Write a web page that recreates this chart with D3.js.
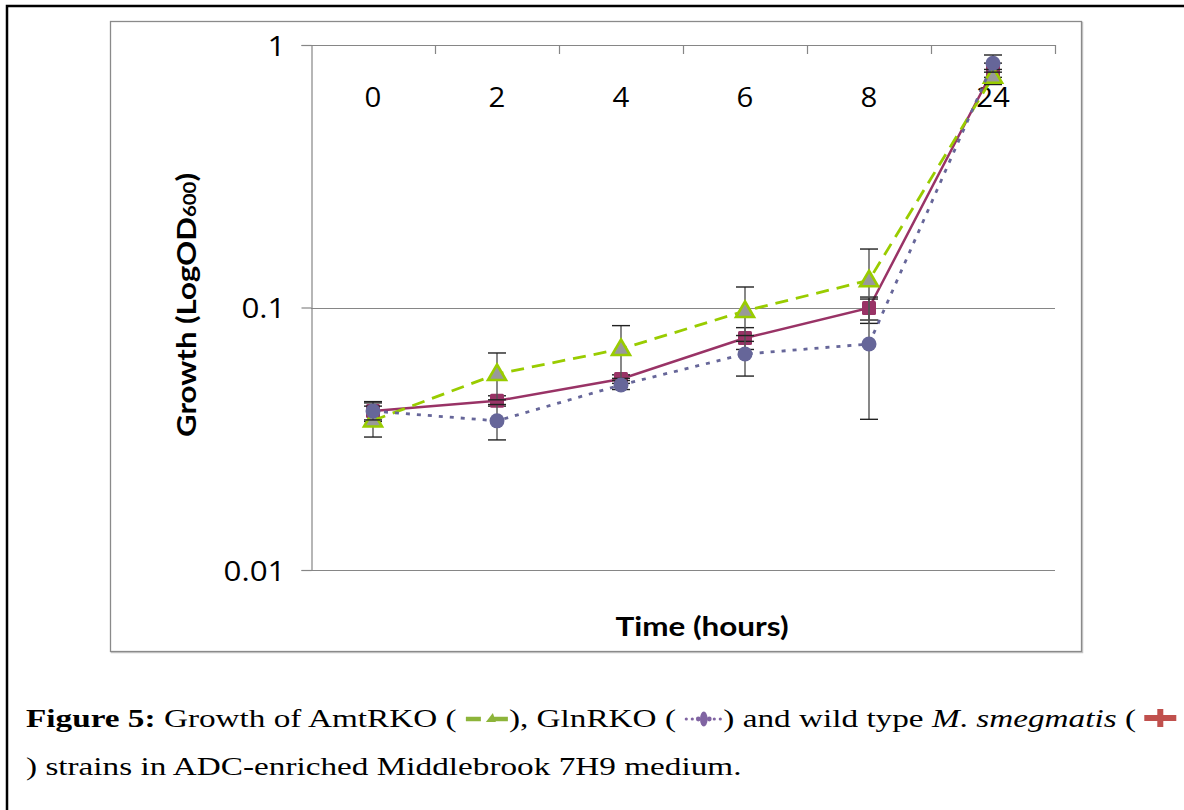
<!DOCTYPE html>
<html>
<head>
<meta charset="utf-8">
<script src="https://cdn.jsdelivr.net/npm/d3@7"></script>
<style>
  html, body { margin: 0; padding: 0; background: #fff; }
  svg { display: block; }
</style>
</head>
<body>
<svg id="chart" width="1184" height="810"></svg>
<script>
// ---- data ----
const categories = ["0", "2", "4", "6", "8", "24"];
const yTickValues = [1, 0.1, 0.01];
const yTickLabels = ["1", "0.1", "0.01"];

const wildType    = [0.0403, 0.0441, 0.0534, 0.0765, 0.0996, 0.803];
const wildTypeErr = [0.0035, 0.0020, 0.0020, 0.0073, 0.0100, 0.050];
const amtRKO      = [0.0371, 0.0558, 0.0695, 0.0970, 0.1270, 0.757];
const amtRKOErr   = [0.0050, 0.0113, 0.0158, 0.0227, 0.0400, 0.050];
const glnRKO      = [0.0403, 0.0370, 0.0507, 0.0665, 0.0726, 0.852];
const glnRKOErr   = [0.0030, 0.0057, 0.0020, 0.0117, 0.0351, 0.064];

const seriesNames = ["wild type", "AmtRKO", "GlnRKO"];

// ---- drawing ----
const svg = d3.select("#chart");
const plot = { left: 311, right: 1055, top: 45, bottom: 570 };
const axisGray = "#868686";

// outer frame (only top/left visible in picture)
svg.append("rect").attr("x", 7).attr("y", 6).attr("width", 1250).attr("height", 900)
  .attr("fill", "none").attr("stroke", "#000").attr("stroke-width", 2.5);

// chart box
svg.append("rect").attr("x", 111.5).attr("y", 22.5).attr("width", 971).attr("height", 630)
  .attr("fill", "none").attr("stroke", "#c8c8c8").attr("stroke-width", 1.5);
svg.append("rect").attr("x", 110.5).attr("y", 21.5).attr("width", 971).attr("height", 630)
  .attr("fill", "#fff").attr("stroke", "#8a8a8a").attr("stroke-width", 1.3);

const x = d3.scaleBand().domain(categories).range([plot.left, plot.right]).paddingInner(0).paddingOuter(0);
const xc = c => x(c) + x.bandwidth() / 2;
const y = d3.scaleLog().domain([0.01, 1]).range([plot.bottom, plot.top]);

// gridlines
svg.append("g").selectAll("line").data(yTickValues.slice(1)).join("line")
  .attr("x1", plot.left).attr("x2", plot.right)
  .attr("y1", d => Math.round(y(d)) + 0.5).attr("y2", d => Math.round(y(d)) + 0.5)
  .attr("stroke", axisGray).attr("stroke-width", 1.2);

// y axis
const yAxis = d3.axisLeft(y).tickValues(yTickValues)
  .tickFormat((d, i) => yTickLabels[i]).tickSize(10).tickPadding(16);
const gy = svg.append("g").attr("transform", `translate(${plot.left + 0.5},0)`).call(yAxis);
gy.select(".domain").attr("stroke", axisGray).attr("stroke-width", 1.2);
gy.selectAll(".tick line").attr("stroke", axisGray).attr("stroke-width", 1.2);
gy.selectAll(".tick text").attr("font-family", "'Open Sans', sans-serif")
  .attr("font-size", 28).attr("fill", "#000").attr("dy", "0.36em")
  .attr("x", 0).attr("transform", "translate(-26,0) scale(1.12,1)");

// x axis line at top (value 1) with category boundary ticks going down
svg.append("line").attr("x1", plot.left).attr("x2", plot.right)
  .attr("y1", y(1) + 0.5).attr("y2", y(1) + 0.5)
  .attr("stroke", axisGray).attr("stroke-width", 1.2);
svg.append("g").selectAll("line").data(categories).join("line")
  .attr("x1", d => x(d) + x.bandwidth() + 0.5).attr("x2", d => x(d) + x.bandwidth() + 0.5)
  .attr("y1", y(1)).attr("y2", y(1) + 9)
  .attr("stroke", axisGray).attr("stroke-width", 1.2);

// category labels (below top axis line)
const xAxis = d3.axisBottom(x).tickSize(0).tickPadding(0);
const gx = svg.append("g").attr("transform", `translate(0,${y(1)})`).call(xAxis);
gx.select(".domain").remove();
gx.selectAll(".tick text").attr("font-family", "'Open Sans', sans-serif")
  .attr("font-size", 28).attr("fill", "#000").attr("y", 0).attr("dy", 0)
  .attr("transform", "translate(0,62) scale(1.05,1)");

// axis titles
svg.append("text").attr("transform", "translate(702,636) scale(1.21,1)").attr("text-anchor", "middle")
  .attr("font-family", "Lato, sans-serif").attr("font-weight", "bold").attr("font-size", 26)
  .text("Time (hours)");
const yt = svg.append("text").attr("transform", "translate(196,305) rotate(-90) scale(1.2,1)")
  .attr("text-anchor", "middle").attr("font-family", "Lato, sans-serif")
  .attr("font-weight", "bold").attr("font-size", 26);
yt.append("tspan").text("Growth (LogOD");
yt.append("tspan").attr("font-size", 17).text("600");
yt.append("tspan").text(")");

// series
const series = [
  { name: seriesNames[0], vals: wildType, err: wildTypeErr, color: "#993366", dash: null, marker: "square" },
  { name: seriesNames[1], vals: amtRKO, err: amtRKOErr, color: "#99cc00", dash: "13,8", marker: "triangle" },
  { name: seriesNames[2], vals: glnRKO, err: glnRKOErr, color: "#666699", dash: "4,7", marker: "circle" }
];

const line = d3.line().x(d => xc(d.c)).y(d => y(d.v));

series.forEach(s => {
  const pts = categories.map((c, i) => ({ c, v: s.vals[i], e: s.err[i] }));
  const g = svg.append("g");
  g.append("path").datum(pts).attr("d", line).attr("fill", "none")
    .attr("stroke", s.color).attr("stroke-width", s.marker === "square" ? 2.5 : 2.8)
    .attr("stroke-dasharray", s.dash);
  // error bars
  const eb = g.append("g").selectAll("g").data(pts).join("g");
  eb.append("line").attr("x1", d => xc(d.c)).attr("x2", d => xc(d.c))
    .attr("y1", d => y(d.v + d.e)).attr("y2", d => y(d.v - d.e))
    .attr("stroke", "#555").attr("stroke-width", 1.4);
  eb.append("line").attr("x1", d => xc(d.c) - 9).attr("x2", d => xc(d.c) + 9)
    .attr("y1", d => y(d.v + d.e)).attr("y2", d => y(d.v + d.e))
    .attr("stroke", "#222").attr("stroke-width", 1.4);
  eb.append("line").attr("x1", d => xc(d.c) - 9).attr("x2", d => xc(d.c) + 9)
    .attr("y1", d => y(d.v - d.e)).attr("y2", d => y(d.v - d.e))
    .attr("stroke", "#222").attr("stroke-width", 1.4);
  // markers
  const m = g.append("g").selectAll("g").data(pts).join("g")
    .attr("transform", d => `translate(${xc(d.c)},${y(d.v)})`);
  if (s.marker === "square") {
    m.append("rect").attr("x", -7).attr("y", -7).attr("width", 14).attr("height", 14)
      .attr("rx", 1.5).attr("fill", s.color);
  } else if (s.marker === "triangle") {
    m.append("path").attr("d", "M0,-9.5 L9,6 L-9,6 Z")
      .attr("fill", "#999999").attr("stroke", s.color).attr("stroke-width", 2.6)
      .attr("stroke-linejoin", "miter");
  } else {
    m.append("circle").attr("r", 7.5).attr("fill", s.color);
  }
});

// ---- caption ----
const capFont = "'Liberation Serif', 'Times New Roman', serif";
const capScale = 1.33;
function placeText(parent, xPos, yPos, str, opts) {
  const t = parent.append("text").attr("x", 0).attr("y", 0)
    .attr("transform", `translate(${xPos},${yPos}) scale(${capScale},1)`)
    .attr("font-family", capFont).attr("font-size", 25).attr("fill", "#000")
    .attr("font-weight", opts && opts.bold ? "bold" : "normal")
    .attr("font-style", opts && opts.italic ? "italic" : "normal")
    .attr("xml:space", "preserve").style("white-space", "pre")
    .text(str);
  return xPos + capScale * t.node().getComputedTextLength();
}
const cap = svg.append("g");
const b1 = 727, b2 = 775;
let cx = 26;
cx = placeText(cap, cx, b1, "Figure 5:", { bold: true });
cx = placeText(cap, cx, b1, " Growth of AmtRKO ( ");
// green legend icon: dash, triangle, dash
{
  const gi = cap.append("g").attr("transform", `translate(${cx},${b1 - 8})`);
  gi.append("line").attr("x1", 1).attr("x2", 16).attr("y1", 0).attr("y2", 0)
    .attr("stroke", "#8db43a").attr("stroke-width", 4.5);
  gi.append("path").attr("d", "M21,3 L28,-6 L31,3 Z").attr("fill", "#8db43a");
  gi.append("line").attr("x1", 29).attr("x2", 43).attr("y1", 0).attr("y2", 0)
    .attr("stroke", "#8db43a").attr("stroke-width", 4.5);
  cx += 44;
}
cx = placeText(cap, cx, b1, "), GlnRKO ( ");
{
  const pi = cap.append("g").attr("transform", `translate(${cx},${b1 - 8})`);
  [2, 8, 30, 36].forEach(d => pi.append("circle").attr("cx", d).attr("cy", 0).attr("r", 1.6).attr("fill", "#8064a2"));
  [14, 25].forEach(d => pi.append("circle").attr("cx", d).attr("cy", 0).attr("r", 2.4).attr("fill", "#8064a2"));
  pi.append("ellipse").attr("cx", 19.5).attr("cy", 0).attr("rx", 3.8).attr("ry", 7.5).attr("fill", "#8064a2");
  cx += 39;
}
cx = placeText(cap, cx, b1, ") and wild type ");
cx = placeText(cap, cx, b1, "M", { italic: true });
cx = placeText(cap, cx, b1, ". ");
cx = placeText(cap, cx, b1, "smegmatis", { italic: true });
cx = placeText(cap, cx, b1, " ( ");
{
  const ri = cap.append("g").attr("transform", `translate(${cx},${b1 - 9})`);
  ri.append("rect").attr("x", 0).attr("y", -3).attr("width", 32).attr("height", 6).attr("fill", "#c0504d");
  ri.append("rect").attr("x", 13).attr("y", -9).attr("width", 6).attr("height", 18).attr("fill", "#c0504d");
}
placeText(cap, 26, b2, ") strains in ADC-enriched Middlebrook 7H9 medium.");
</script>
</body>
</html>
